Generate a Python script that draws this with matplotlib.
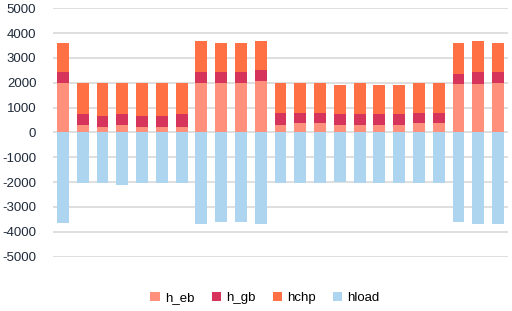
import numpy as np
import matplotlib
matplotlib.use("Agg")
import matplotlib.pyplot as plt

# hourly heat balance, 23 periods
h_eb = [2010, 300, 230, 310, 230, 230, 230, 2010, 2010, 2010, 2080, 310, 390, 390,
        310, 310, 310, 310, 390, 390, 1930, 1930, 2010]
h_gb = [430, 440, 440, 430, 440, 440, 510, 430, 430, 430, 430, 490, 410, 410,
        430, 430, 430, 430, 410, 410, 430, 510, 430]
hchp = [1180, 1260, 1330, 1260, 1330, 1330, 1260, 1260, 1180, 1180, 1190, 1180, 1180, 1180,
        1180, 1240, 1180, 1180, 1180, 1180, 1260, 1260, 1180]
hload = [-3650, -2030, -2040, -2120, -2040, -2040, -2040, -3680, -3600, -3600, -3680, -2040, -2040, -2040,
         -2000, -2040, -2040, -2040, -2040, -2040, -3600, -3680, -3680]

yticks = [5000, 4000, 3000, 2000, 1000, 0, -1000, -2000, -3000, -4000, -5000]

colors = {'h_eb': '#FF917C', 'h_gb': '#D6345A', 'hchp': '#FF7045', 'hload': '#AED5EF'}

plt.rcParams['font.family'] = ['Liberation Sans', 'DejaVu Sans']

fig = plt.figure(figsize=(5.12, 3.11), dpi=100)
ax = fig.add_axes([53 / 512, 1 - 256.5 / 311, 455 / 512, 248.2 / 311])

x = np.arange(len(h_eb))
w = 0.6
eb = np.array(h_eb)
gb = np.array(h_gb)
ax.bar(x, h_eb, w, color=colors['h_eb'], label='h_eb', zorder=3)
ax.bar(x, h_gb, w, bottom=eb, color=colors['h_gb'], label='h_gb', zorder=3)
ax.bar(x, hchp, w, bottom=eb + gb, color=colors['hchp'], label='hchp', zorder=3)
ax.bar(x, hload, w, color=colors['hload'], label='hload', zorder=3)

ax.set_xlim(-0.5, len(h_eb) - 0.5)
ax.set_ylim(-5000, 5000)
ax.set_yticks(yticks)
ax.set_yticklabels([str(t) for t in yticks])
ax.tick_params(axis='y', length=0, pad=12, labelsize=9.5, labelcolor='#1f2a3a')
ax.tick_params(axis='x', length=0, labelbottom=False)
for s in ax.spines.values():
    s.set_visible(False)
ax.yaxis.grid(True, color='#D9D9D9', linewidth=1.2, zorder=0)
ax.set_axisbelow(True)

ax.legend(loc='center', bbox_to_anchor=(0.466, -0.167), ncol=4, frameon=False,
          fontsize=9.5, handlelength=0.7, handleheight=0.7, handletextpad=0.4,
          columnspacing=1.3)

fig.savefig('out.png', dpi=100)
